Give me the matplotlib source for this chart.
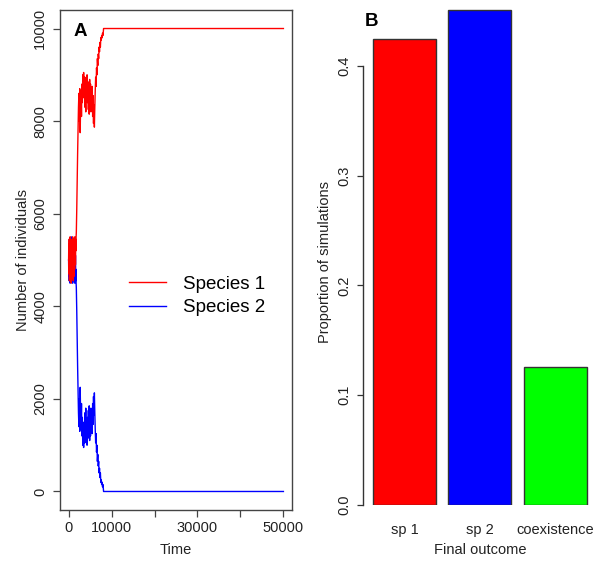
import matplotlib
matplotlib.use("Agg")
import matplotlib.pyplot as plt

plt.rcParams['font.family'] = ['Liberation Sans', 'DejaVu Sans']

# ---- Panel A data ----
time = [0, 50, 100, 150, 200, 250, 300, 350, 400, 450, 500, 550, 600, 650, 700, 750,
        800, 850, 900, 950, 1000, 1050, 1100, 1150, 1200, 1250, 1300, 1350, 1400, 1450,
        1500, 1550, 1600, 1650, 1700, 1750,
        1800, 1900, 2000, 2100, 2200, 2300, 2400, 2500, 2600, 2700, 2800, 2900, 3000,
        3100, 3200, 3300, 3400, 3500, 3600, 3700, 3800, 3900, 4000, 4100, 4200, 4300,
        4400, 4500, 4600, 4700, 4800, 4900, 5000, 5100, 5200, 5300, 5400, 5500, 5600,
        5700, 5800, 5900, 6000, 6100, 6200, 6300, 6400, 6500, 6600, 6700, 6800, 6900,
        7000, 7100, 7200, 7300, 7400, 7500, 7600, 7700, 7800, 7900, 8000, 8100,
        8140, 50000]
species1 = [5000, 5350, 4700, 5450, 4550, 5200, 4800, 5500, 4650, 5300, 4900, 5450, 4500,
            5100, 4750, 5400, 4600, 5250, 4850, 5500, 4700, 5350, 4550, 5150, 4900, 5450,
            4650, 5300, 4800, 5500, 5000, 5400, 4900, 5450, 5200, 5500,
            5600, 6100, 6700, 7300, 7800, 8300, 8600, 8000, 8700, 7750, 8400, 8650, 8100,
            8800, 8400, 9000, 8550, 9050, 8500, 8950, 8300, 8750, 8200, 8950, 8550, 9000,
            8400, 8850, 8250, 8700, 8150, 8900, 8450, 8800, 8200, 8650, 8300, 8750, 8100,
            8550, 7950, 8350, 7870, 8300, 8650, 8950, 8750, 9150, 9000, 9350, 9200, 9450,
            9350, 9600, 9500, 9700, 9600, 9800, 9750, 9850, 9800, 9900, 9850, 9950,
            10000, 10000]
species2 = [5000, 4650, 5300, 4550, 5450, 4800, 5200, 4500, 5350, 4700, 5100, 4550, 5500,
            4900, 5250, 4600, 5400, 4750, 5150, 4500, 5300, 4650, 5450, 4850, 5100, 4550,
            5350, 4700, 5200, 4500, 5000, 4600, 5100, 4550, 4800, 4500,
            4400, 3900, 3300, 2700, 2200, 1700, 1400, 2000, 1300, 2250, 1600, 1350, 1900,
            1200, 1600, 1000, 1450, 950, 1500, 1050, 1700, 1250, 1800, 1050, 1450, 1000,
            1600, 1150, 1750, 1300, 1850, 1100, 1550, 1200, 1800, 1350, 1700, 1250, 1900,
            1450, 2050, 1650, 2130, 1700, 1350, 1050, 1250, 850, 1000, 650, 800, 550,
            650, 400, 500, 300, 400, 200, 250, 150, 200, 100, 150, 50,
            0, 0]
series_labels = ["Species 1", "Species 2"]
x_ticks = [0, 10000, 20000, 30000, 40000, 50000]
x_tick_labels = ["0", "10000", "", "30000", "", "50000"]
y_ticks = [0, 2000, 4000, 6000, 8000, 10000]

# ---- Panel B data ----
outcomes = ["sp 1", "sp 2", "coexistence"]
proportions = [0.424, 0.4505, 0.1255]
bar_colors = ["#ff0000", "#0000ff", "#00ff00"]
b_ticks = [0.0, 0.1, 0.2, 0.3, 0.4]

W, H = 593, 561
fig = plt.figure(figsize=(W / 100, H / 100), dpi=100)

def fx(px):
    return px / W

def fy(py):
    return 1 - py / H

FS = 10.5
TICK_COL = '#222222'

# ---- Panel A ----
axA = fig.add_axes([fx(60), fy(510), fx(292) - fx(60), fy(10) - fy(510)])
axA.plot(time, species2, color='#0000ff', lw=1.0, label=series_labels[1])
axA.plot(time, species1, color='#ff0000', lw=1.0, label=series_labels[0])
axA.set_xlim(-2000, 52000)
axA.set_ylim(-400, 10400)
axA.set_xticks(x_ticks)
axA.set_xticklabels(x_tick_labels)
axA.set_yticks(y_ticks)
axA.set_yticklabels([str(v) for v in y_ticks], rotation=90, va='center')
for s in axA.spines.values():
    s.set_color('#444444')
    s.set_linewidth(1.0)
axA.tick_params(axis='both', direction='out', length=5.2, width=0.9, color='#444444',
                labelsize=FS, labelcolor=TICK_COL)
axA.tick_params(axis='x', pad=2.5)
axA.tick_params(axis='y', pad=4.0)
handles, labels = axA.get_legend_handles_labels()
leg = axA.legend(handles[::-1], labels[::-1], loc='center left',
                 bbox_to_anchor=(fx(129), fy(296)), bbox_transform=fig.transFigure,
                 frameon=False, fontsize=13.5, handlelength=1.95, handletextpad=0.95,
                 labelspacing=0.36, borderpad=0, borderaxespad=0)
fig.text(fx(80), fy(31), "A", fontsize=13.5, fontweight='bold', ha='center', va='center')
fig.text(fx(176), fy(550), "Time", fontsize=FS, ha='center', va='center', color=TICK_COL)
fig.text(fx(23), fy(260), "Number of individuals", fontsize=FS, ha='center', va='center',
         rotation=90, color=TICK_COL)

# ---- Panel B ----
axB = fig.add_axes([fx(363), fy(505), fx(593) - fx(363), fy(5.4) - fy(505)])
centers = [0.7, 1.9, 3.1]
axB.bar(centers, proportions, width=1.0, color=bar_colors, edgecolor='#333333', linewidth=1.0)
axB.set_xlim(0.041, 3.698)
axB.set_ylim(0, 0.455)
axB.set_xticks(centers)
axB.set_xticklabels(outcomes)
axB.set_yticks(b_ticks)
axB.set_yticklabels([f"{v:.1f}" for v in b_ticks], rotation=90, va='center')
for k in ['top', 'right', 'bottom']:
    axB.spines[k].set_visible(False)
axB.spines['left'].set_bounds(0, 0.4)
axB.spines['left'].set_color('#333333')
axB.spines['left'].set_linewidth(1.0)
axB.tick_params(axis='y', direction='out', length=4.3, width=0.9, color='#333333',
                labelsize=FS, labelcolor=TICK_COL, pad=4.0)
axB.tick_params(axis='x', length=0, labelsize=FS, labelcolor=TICK_COL, pad=13)
axB.patch.set_alpha(0)
fig.text(fx(371), fy(22), "B", fontsize=13.5, fontweight='bold', ha='center', va='center')
fig.text(fx(480), fy(550), "Final outcome", fontsize=FS, ha='center', va='center', color=TICK_COL)
fig.text(fx(325), fy(262), "Proportion of simulations", fontsize=FS, ha='center', va='center',
         rotation=90, color=TICK_COL)

fig.savefig("out.png", dpi=100)
